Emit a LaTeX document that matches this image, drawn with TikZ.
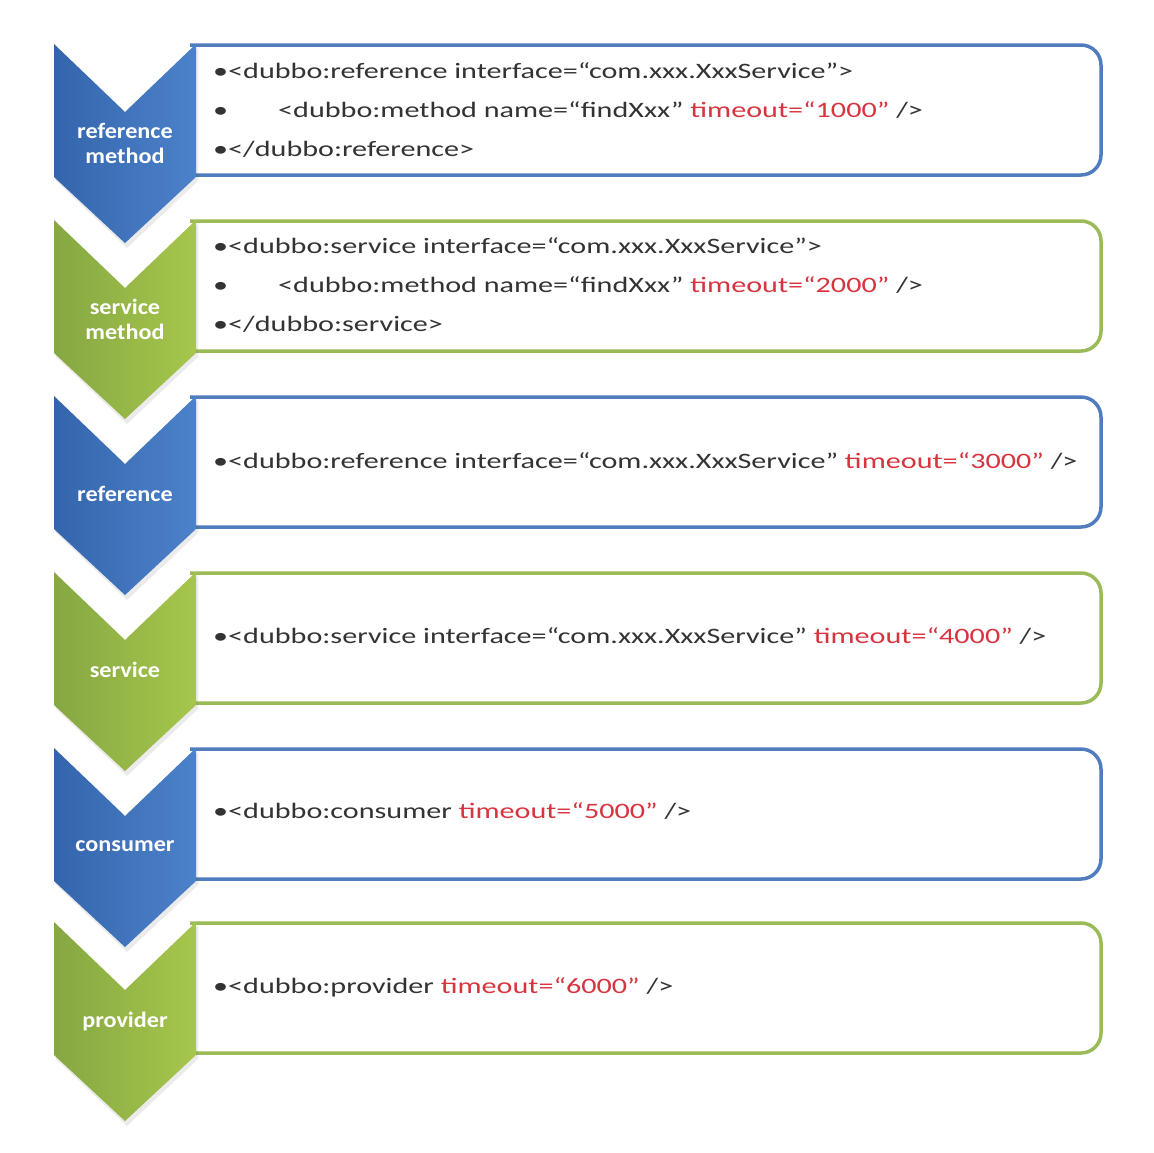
\documentclass[tikz,border=0pt]{standalone}
\usepackage{fontspec}
\setmainfont{Carlito}
\newfontfamily\codefont[FakeStretch=1.37]{Carlito}
\newfontfamily\labfont[FakeStretch=1.1]{Carlito}
\definecolor{chevBlueL}{HTML}{3465AC}
\definecolor{chevBlueR}{HTML}{4C82CA}
\definecolor{chevGreenL}{HTML}{86A742}
\definecolor{chevGreenR}{HTML}{A6C64C}
\definecolor{edgeBlue}{HTML}{4F7DBE}
\definecolor{edgeGreen}{HTML}{9BBB59}
\definecolor{codeGray}{HTML}{333333}
\definecolor{codeRed}{HTML}{D8343F}
\tikzset{
  blueshade/.style={left color=chevBlueL, right color=chevBlueR},
  greenshade/.style={left color=chevGreenL, right color=chevGreenR},
  blueframe/.style={draw=edgeBlue, line width=3.5pt, fill=white, rounded corners=20pt},
  greenframe/.style={draw=edgeGreen, line width=3.5pt, fill=white, rounded corners=20pt},
  codetext/.style={anchor=base west, inner sep=0pt, font=\codefont\fontsize{22}{26}\selectfont, text=codeGray},
  labtext/.style={align=center, inner sep=0pt, font=\labfont\bfseries\fontsize{22}{26}\selectfont, text=white},
  chevshadow/.style={fill=black, opacity=0.08}
}
\newcommand\mychevron[2]{%
  \fill[chevshadow] (56,#1+4) -- (127,#1+72) -- (198,#1+4) -- (198,#1+137) -- (127,#1+204) -- (56,#1+137) -- cycle;
  \path[#2] (54,#1) -- (125,#1+68) -- (196,#1) -- (196,#1+133) -- (125,#1+199) -- (54,#1+133) -- cycle;
}
\newcommand\myframe[2]{%
  \path[#2] (190,#1+1) -- (1101,#1+1) -- (1101,#1+131) -- (190,#1+131);
}
\newcommand\red[1]{\textcolor{codeRed}{#1}}
\begin{document}
\begin{tikzpicture}[x=1pt,y=-1pt]
\useasboundingbox (0,0) rectangle (1154,1152);
\fill[white] (0,0) rectangle (1154,1152);
% frames
\myframe{44}{blueframe}
\myframe{220}{greenframe}
\myframe{396}{blueframe}
\myframe{572}{greenframe}
\myframe{748}{blueframe}
\myframe{922}{greenframe}
% chevrons
\mychevron{44}{blueshade}
\mychevron{220}{greenshade}
\mychevron{396}{blueshade}
\mychevron{572}{greenshade}
\mychevron{748}{blueshade}
\mychevron{922}{greenshade}
% labels
\node[labtext] (l1) at (125,143) {reference\\[-1pt]method};
\node[labtext] (l2) at (125,319) {service\\[-1pt]method};
\node[labtext] (l3) at (125,494) {reference};
\node[labtext] (l4) at (125,670) {service};
\node[labtext] (l5) at (125,846) {consumer};
\node[labtext] (l6) at (125,1021) {provider};
% texts
\node[codetext] (t1a) at (213,78) {•<dubbo:reference interface=“com.xxx.XxxService”>};
\node[codetext] (t1b) at (213,117) {•};
\node[codetext] (t1c) at (278,117) {<dubbo:method name=“findXxx” \red{timeout=“1000”} />};
\node[codetext] (t1d) at (213,156) {•</dubbo:reference>};
\node[codetext] (t2a) at (213,253) {•<dubbo:service interface=“com.xxx.XxxService”>};
\node[codetext] (t2b) at (213,292) {•};
\node[codetext] (t2c) at (278,292) {<dubbo:method name=“findXxx” \red{timeout=“2000”} />};
\node[codetext] (t2d) at (213,331) {•</dubbo:service>};
\node[codetext] (t3) at (213,468) {•<dubbo:reference interface=“com.xxx.XxxService” \red{timeout=“3000”} />};
\node[codetext] (t4) at (213,643) {•<dubbo:service interface=“com.xxx.XxxService” \red{timeout=“4000”} />};
\node[codetext] (t5) at (213,818) {•<dubbo:consumer \red{timeout=“5000”} />};
\node[codetext] (t6) at (213,993) {•<dubbo:provider \red{timeout=“6000”} />};
\end{tikzpicture}
\end{document}
